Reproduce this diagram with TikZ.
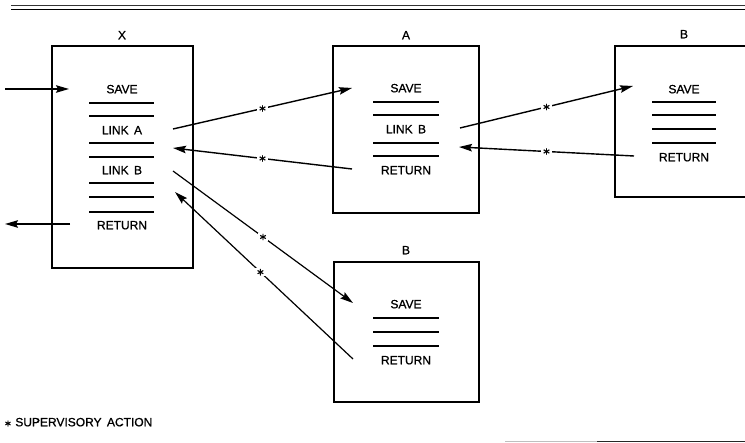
\documentclass[tikz,border=0pt]{standalone}
\usepackage{fontspec}
\setmainfont{Liberation Sans}[FakeBold=0.9]
\newfontfamily\starfont{DejaVu Sans}[FakeBold=1.5]
\usetikzlibrary{arrows.meta}
\begin{document}
\begin{tikzpicture}[x=1pt,y=-1pt,
  box/.style={draw,line width=1.8pt,inner sep=0pt},
  txt/.style={font=\fontsize{12}{13}\selectfont,inner sep=0pt,text height=8.6pt,text depth=0pt,anchor=center},
  rule/.style={line width=1.2pt},
  conn/.style={line width=1.4pt,-{Stealth[length=13pt,width=7.5pt,inset=2pt]}},
  ast/.style={fill=white,inner sep=1pt,font=\starfont\fontsize{10}{10}\selectfont},
]
\useasboundingbox (0,0) rectangle (745,443);
\clip (0,0) rectangle (745,443);

% header and footer rules
\draw[line width=0.8pt,black!80] (11,5) -- (745,5);
\draw[line width=1.5pt] (11,9.5) -- (745,9.5);
\draw[line width=1.4pt,black!25] (505,441.5) -- (597,441.5);
\draw[line width=1.4pt,black!85] (597,441.5) -- (745,441.5);

% routine boxes
\node[box,minimum width=141pt,minimum height=222pt] (bx) at (122.5,157) {};
\node[box,minimum width=146pt,minimum height=167pt] (ba) at (406,129.5) {};
\node[box,minimum width=155pt,minimum height=151pt] (bb) at (692.5,121.5) {};
\node[box,minimum width=145pt,minimum height=140pt] (bc) at (406.5,332) {};

% box titles
\node[txt] (lx) at (122,35) {X};
\node[txt] (la) at (406,35) {A};
\node[txt] (lb) at (684,34) {B};
\node[txt] (lc) at (406,250) {B};

% routine X
\node[txt] (xsave) at (122,89) {SAVE};
\node[txt] (xlinka) at (122,130) {LINK\hspace{0.45em}A};
\node[txt] (xlinkb) at (122,170) {LINK\hspace{0.45em}B};
\node[txt] (xret) at (122,225) {RETURN};
\foreach \y in {103,116,143,157,183,197,212}
  \draw[rule] (89,\y) -- (154,\y);

% routine A
\node[txt] (asave) at (406,88) {SAVE};
\node[txt] (alinkb) at (406,129) {LINK\hspace{0.45em}B};
\node[txt] (aret) at (406,170) {RETURN};
\foreach \y in {102,115,143,156}
  \draw[rule] (373,\y) -- (439,\y);

% routine B called from A
\node[txt] (bsave) at (684,89) {SAVE};
\node[txt] (bret) at (684,157) {RETURN};
\foreach \y in {102,115,129,143}
  \draw[rule] (652,\y) -- (716,\y);

% routine B called from X
\node[txt] (csave) at (406,304) {SAVE};
\node[txt] (cret) at (406,360) {RETURN};
\foreach \y in {318,332,346}
  \draw[rule] (373,\y) -- (439,\y);

% connection points
\coordinate (xin0) at (5,89);    \coordinate (xin) at (69,89);
\coordinate (xout0) at (70,224); \coordinate (xout) at (5,224);
\coordinate (xla) at (173,129);  \coordinate (xlaback) at (173,148);
\coordinate (xlb) at (173,171);  \coordinate (xlbback) at (175,192);
\coordinate (ain) at (352,88);   \coordinate (aout) at (352,169);
\coordinate (alb) at (460,128);  \coordinate (albback) at (459,147);
\coordinate (bin) at (633,86);   \coordinate (bout) at (634,156);
\coordinate (cin) at (353,303);  \coordinate (cout) at (353,359);

% entry and exit of X
\draw[conn] (xin0) -- (xin);
\draw[conn] (xout0) -- (xout);

% calls and returns through the supervisor
\draw[conn] (xla) -- node[ast]{∗} (ain);
\draw[conn] (aout) -- node[ast]{∗} (xlaback);
\draw[conn] (alb) -- node[ast]{∗} (bin);
\draw[conn] (bout) -- node[ast]{∗} (albback);
\draw[conn,line width=1.2pt] (xlb) -- node[ast]{∗} (cin);
\draw[conn,line width=1.2pt] (cout) -- node[ast,pos=0.52]{∗} (xlbback);

% footnote
\node[txt,anchor=west] (note) at (4,422) {{\starfont\fontsize{9}{9}\selectfont∗}\hspace{0.3em}SUPERVISORY\hspace{0.45em}ACTION};
\end{tikzpicture}
\end{document}
